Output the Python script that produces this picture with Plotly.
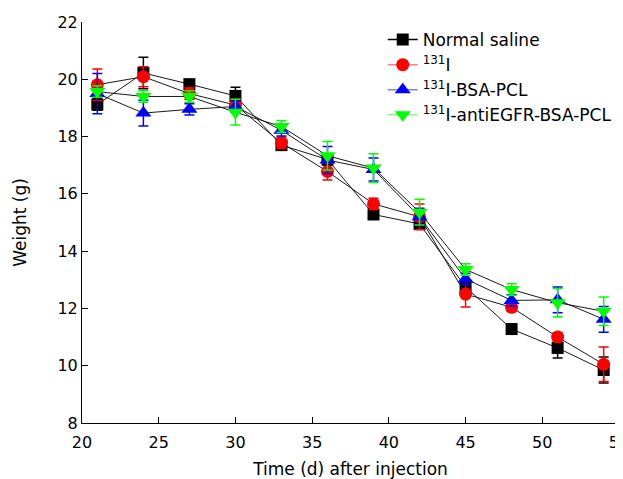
import plotly.graph_objects as go

days = [21, 24, 27, 30, 33, 36, 39, 42, 45, 48, 51, 54]

saline = [19.12, 20.22, 19.83, 19.42, 17.70, 17.20, 15.28, 14.95, 12.75, 11.28, 10.62, 9.85]
saline_err = [0.2, 0.55, 0.15, 0.3, 0.15, 0.2, 0.15, 0.15, 0.2, 0.15, 0.35, 0.45]

iodine = [19.81, 20.09, 19.50, 19.10, 17.78, 16.78, 15.65, 15.20, 12.50, 12.04, 11.00, 10.05]
iodine_err = [0.55, 0.35, 0.2, 0.2, 0.2, 0.3, 0.2, 0.45, 0.45, 0.15, 0.15, 0.6]

bsa = [19.50, 18.82, 18.95, 19.05, 18.22, 17.18, 16.85, 15.20, 13.03, 12.28, 12.30, 11.62]
bsa_err = [0.7, 0.45, 0.2, 0.2, 0.2, 0.47, 0.4, 0.3, 0.2, 0.2, 0.45, 0.45]

egfr = [19.57, 19.40, 19.40, 18.85, 18.35, 17.33, 16.90, 15.36, 13.36, 12.66, 12.20, 11.90]
egfr_err = [0.2, 0.2, 0.2, 0.45, 0.2, 0.5, 0.5, 0.45, 0.2, 0.2, 0.5, 0.5]

names = ["Normal saline", "<sup>131</sup>I", "<sup>131</sup>I-BSA-PCL",
         "<sup>131</sup>I-antiEGFR-BSA-PCL"]
series = [saline, iodine, bsa, egfr]
errors = [saline_err, iodine_err, bsa_err, egfr_err]
colors = ["#000000", "#FF0000", "#0000FF", "#00FF00"]
legend_line_colors = ["#000000", "#FF8080", "#8080FF", "#80FF80"]
symbols = ["square", "circle", "triangle-up", "triangle-down"]
sizes = [12, 13, 14, 14]

fig = go.Figure()
for vals, err, col, sym, sz in zip(series, errors, colors, symbols, sizes):
    fig.add_trace(go.Scatter(
        x=days, y=vals, mode="lines+markers", showlegend=False,
        line=dict(color="#1a1a1a", width=1),
        marker=dict(color=col, symbol=sym, size=sz, line=dict(width=0)),
        error_y=dict(type="data", array=err, visible=True, color=col,
                     thickness=1.5, width=5),
    ))

for name, lc, col, sym, sz in zip(names, legend_line_colors, colors, symbols, sizes):
    fig.add_trace(go.Scatter(
        x=[None], y=[None], mode="lines+markers", name=name,
        line=dict(color=lc, width=1.5),
        marker=dict(color=col, symbol=sym, size=sz, line=dict(width=0)),
    ))

font_family = "DejaVu Sans"
fig.update_layout(
    width=623, height=471,
    margin=dict(l=74, r=12, t=14, b=56, autoexpand=False),
    paper_bgcolor="white", plot_bgcolor="white",
    font=dict(family=font_family, size=15, color="#000000"),
    showlegend=True,
    legend=dict(x=0.56, y=1.0, xanchor="left", yanchor="top",
                bgcolor="rgba(0,0,0,0)", font=dict(size=17),
                tracegroupgap=0, itemsizing="trace"),
    xaxis=dict(range=[20, 55], tickvals=[20, 25, 30, 35, 40, 45, 50, 55],
               ticks="inside", ticklen=6, tickcolor="#000", showgrid=False,
               zeroline=False, showline=True, linecolor="#000", linewidth=1,
               automargin=False, ticklabeloverflow="allow",
               ticklabelstandoff=5,
               title=dict(text="Time (d) after injection", standoff=18,
                          font=dict(size=17)),
               tickfont=dict(size=16)),
    yaxis=dict(range=[8, 22], tickvals=[8, 10, 12, 14, 16, 18, 20, 22],
               ticks="inside", ticklen=6, tickcolor="#000", showgrid=False,
               zeroline=False, showline=True, linecolor="#000", linewidth=1,
               automargin=False,
               title=dict(text="Weight (g)", standoff=26, font=dict(size=17)),
               tickfont=dict(size=16)),
)

fig.write_html("out.html")
